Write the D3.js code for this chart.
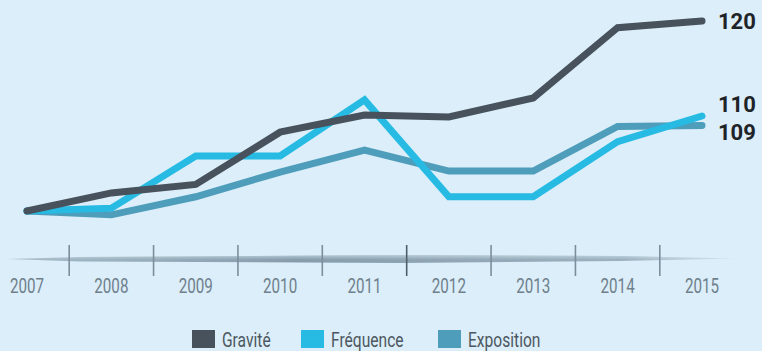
<!DOCTYPE html>
<html>
<head>
<meta charset="utf-8">
<script src="https://cdn.jsdelivr.net/npm/d3@7"></script>
<style>
  html, body { margin: 0; padding: 0; background: #dbeef9; }
  svg { display: block; }
</style>
</head>
<body>
<svg id="chart" width="762" height="351"></svg>
<script>
// Indices (base 100 en 2007)
const years = ["2007", "2008", "2009", "2010", "2011", "2012", "2013", "2014", "2015"];
const gravite    = [100, 101.9, 102.8, 108.3, 110.1, 109.9, 111.9, 119.3, 120];
const frequence  = [100, 100.3, 105.8, 105.8, 111.7, 101.5, 101.5, 107.3, 110];
const exposition = [100, 99.6, 101.5, 104.1, 106.4, 104.2, 104.2, 108.9, 109];
const seriesNames = ["Gravité", "Fréquence", "Exposition"];
const endLabels = ["120", "110", "109"];

const colors = ["#47525c", "#27bbe4", "#4e9dba"];
const font = "Roboto, 'Noto Sans', sans-serif";

const svg = d3.select("#chart");

const x = d3.scalePoint().domain(years).range([27, 702]);
const y = d3.scaleLinear().domain([100, 120]).range([211, 21]);

// Axis band (tapered, shaded)
const defs = svg.append("defs");
const grad = defs.append("linearGradient").attr("id", "band")
  .attr("x1", 0).attr("x2", 1).attr("y1", 0).attr("y2", 0);
grad.append("stop").attr("offset", "0%").attr("stop-color", "#8fa5b3").attr("stop-opacity", 0.7);
grad.append("stop").attr("offset", "40%").attr("stop-color", "#869cab").attr("stop-opacity", 1);
grad.append("stop").attr("offset", "85%").attr("stop-color", "#95aab8").attr("stop-opacity", 0.9);
grad.append("stop").attr("offset", "100%").attr("stop-color", "#b3c6d2").attr("stop-opacity", 0.4);

const shade = defs.append("linearGradient").attr("id", "bandTop")
  .attr("x1", 0).attr("x2", 0).attr("y1", 0).attr("y2", 1);
shade.append("stop").attr("offset", "0%").attr("stop-color", "#dbeef9").attr("stop-opacity", 0.55);
shade.append("stop").attr("offset", "60%").attr("stop-color", "#dbeef9").attr("stop-opacity", 0);

const bandPath = "M8,259 L80,257 L400,255 L620,256 L735,258.5 L620,261 L400,263 L80,261.5 Z";
svg.append("path").attr("d", bandPath).attr("fill", "url(#band)");
svg.append("path").attr("d", bandPath).attr("fill", "url(#bandTop)");

// Tick marks between years
const step = x.step();
const tickPos = years.slice(0, -1).map(d => x(d) + step / 2);
svg.append("g").selectAll("line")
  .data(tickPos)
  .join("line")
  .attr("x1", d => d).attr("x2", d => d)
  .attr("y1", 245).attr("y2", 276)
  .attr("stroke", (d, i) => i === 4 ? "#4f5f6a" : "#7b8e9b")
  .attr("stroke-width", 1.6);

// Year labels (condensed)
svg.append("g").selectAll("g")
  .data(years)
  .join("g")
  .attr("transform", d => `translate(${x(d)},293) scale(0.76,1)`)
  .append("text")
  .attr("text-anchor", "middle")
  .attr("font-family", font)
  .attr("font-size", 20)
  .attr("fill", "#6f808c")
  .text(d => d);

// Lines
const line = d3.line()
  .x((d, i) => x(years[i]))
  .y(d => y(d));

const data = [exposition, frequence, gravite];
const dataColors = [colors[2], colors[1], colors[0]];
svg.append("g").selectAll("path")
  .data(data)
  .join("path")
  .attr("d", d => line(d))
  .attr("fill", "none")
  .attr("stroke", (d, i) => dataColors[i])
  .attr("stroke-width", 7)
  .attr("stroke-linejoin", "miter")
  .attr("stroke-linecap", "round");

// End values
const ends = [gravite, frequence, exposition];
const labelOffset = [8, -4, 14];
svg.append("g").selectAll("text")
  .data(endLabels)
  .join("text")
  .attr("x", 718)
  .attr("y", (d, i) => y(ends[i][ends[i].length - 1]) + labelOffset[i])
  .attr("font-family", font)
  .attr("font-weight", "bold")
  .attr("font-size", 22)
  .attr("fill", "#1e2328")
  .text(d => d);

// Legend
const legendX = [192, 301, 438];
const lg = svg.append("g").selectAll("g")
  .data(seriesNames)
  .join("g")
  .attr("transform", (d, i) => `translate(${legendX[i]},330)`);
lg.append("rect")
  .attr("width", 23).attr("height", 18)
  .attr("fill", (d, i) => colors[i]);
lg.append("g")
  .attr("transform", "translate(30,17) scale(0.78,1)")
  .append("text")
  .attr("font-family", font)
  .attr("font-size", 20)
  .attr("fill", "#4d5761")
  .text(d => d);
</script>
</body>
</html>
